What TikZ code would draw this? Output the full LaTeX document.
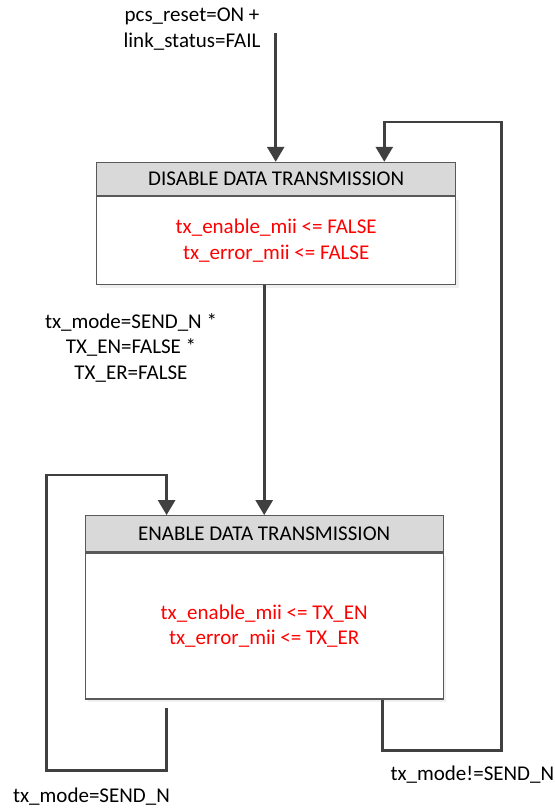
\documentclass[tikz,border=0pt]{standalone}
\usepackage{fontspec}
\setmainfont{Carlito}
\usetikzlibrary{positioning, arrows.meta, shadows}
\definecolor{linegray}{HTML}{404040}
\definecolor{boxgray}{HTML}{595959}
\definecolor{headfill}{HTML}{D9D9D9}
\tikzset{
	head/.style = {draw=boxgray, line width=1.2pt, fill=headfill, minimum height=33,
	 inner sep=0pt, font=\fontsize{21}{25.5}\selectfont},
	body/.style = {draw=boxgray, line width=1.2pt, fill=white, inner sep=0pt, align=center,
	 text=red, font=\fontsize{21}{25.5}\selectfont,
	 drop shadow={opacity=0.12, shadow xshift=3pt, shadow yshift=-3pt}},
	cond/.style = {align=center, font=\fontsize{21}{25.5}\selectfont},
	trans/.style = {draw=linegray, line width=2.7pt, -{Triangle[length=15pt, width=17pt]}},
	loopline/.style = {draw=linegray, line width=2.7pt}
}

\begin{document}
\begin{tikzpicture}[x=1pt, y=-1pt, node distance=0]
\useasboundingbox (0,0) rectangle (554,808);

% NODES
% disable state
\node (dishead) [head, minimum width=359] at (276.2,178.9) {DISABLE DATA TRANSMISSION};
\node (disbody) [body, minimum width=359, minimum height=88, below=of dishead]
 {tx\_enable\_mii <= FALSE\\tx\_error\_mii <= FALSE};
% enable state
\node (enhead) [head, minimum width=358, minimum height=36] at (264.2,533.7) {ENABLE DATA TRANSMISSION};
\node (enbody) [body, minimum width=358, minimum height=146, below=of enhead]
 {tx\_enable\_mii <= TX\_EN\\tx\_error\_mii <= TX\_ER};

% label
\node (reset) [cond] at (192,29) {pcs\_reset=ON +\\link\_status=FAIL};
\node (go) [cond] at (131,347.5) {tx\_mode=SEND\_N *\\TX\_EN=FALSE *\\TX\_ER=FALSE};
\node (stay) [cond] at (91.5,797) {tx\_mode=SEND\_N};
\node (back) [cond, anchor=west] at (387,775) {tx\_mode!=SEND\_N};

% corners
\coordinate (resettop) at (275.7,33);
\coordinate (lbot) at (46.7,770.5);
\coordinate (ltop) at (46.7,475);
\coordinate (rbot) at (501.5,750.5);
\coordinate (rtop) at (501.5,122);

%CONNECTIONS
\draw [trans] (resettop) -- (resettop |- dishead.north);
\draw [trans] (disbody.south -| enhead.north) -- (enhead.north);
\draw [trans] ([xshift=82pt, yshift=-8pt]enbody.south west) |- (lbot) -- (ltop)
 -| ([xshift=82pt]enhead.north west);
\draw [trans] ([xshift=-61pt]enbody.south east) |- (rbot) -- (rtop)
 -| ([xshift=-72pt]dishead.north east);

\end{tikzpicture}
\end{document}
